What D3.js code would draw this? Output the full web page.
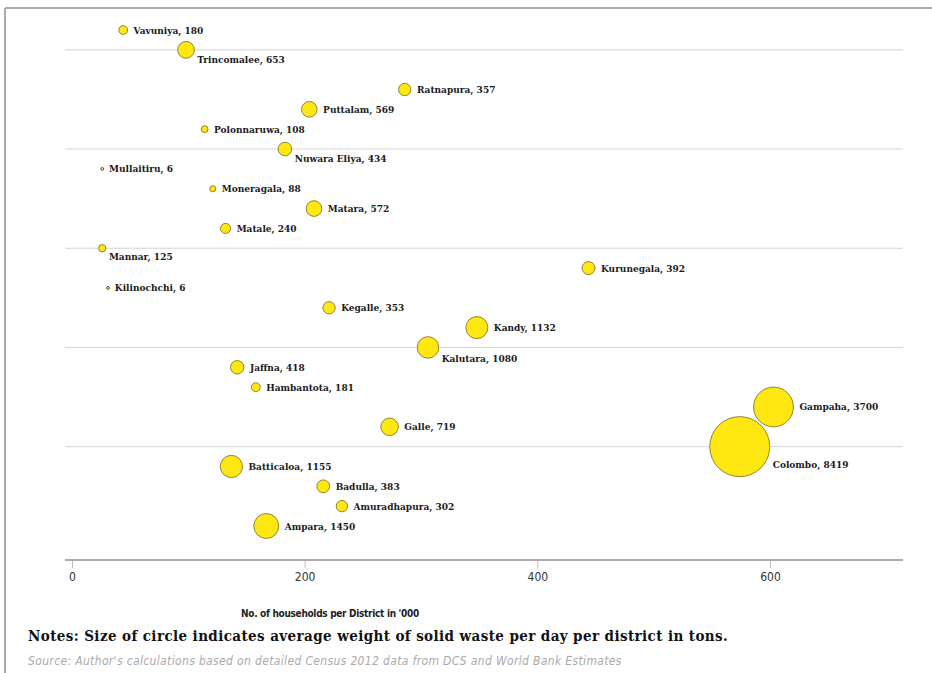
<!DOCTYPE html>
<html>
<head>
<meta charset="utf-8">
<script src="https://cdn.jsdelivr.net/npm/d3@7"></script>
<style>
  body { margin: 0; background: #fff; }
  svg { display: block; }
</style>
</head>
<body>
<div id="chart-area"></div>
<script>
// districts, bottom to top
const districts = ["Ampara", "Amuradhapura", "Badulla", "Batticaloa", "Colombo", "Galle", "Gampaha",
  "Hambantota", "Jaffna", "Kalutara", "Kandy", "Kegalle", "Kilinochchi", "Kurunegala", "Mannar",
  "Matale", "Matara", "Moneragala", "Mullaitiru", "Nuwara Eliya", "Polonnaruwa", "Puttalam",
  "Ratnapura", "Trincomalee", "Vavuniya"]
// row position on the vertical index
const rows = [1, 2, 3, 4, 5, 6, 7, 8, 9, 10, 11, 12, 13, 14, 15, 16, 17, 18, 19, 20, 21, 22, 23, 25, 26]
// households per district ('000)
const households = [167, 232, 216, 137, 574, 273, 603, 158, 142, 306, 348, 221, 31, 444, 26,
  132, 208, 121, 26, 183, 114, 204, 286, 98, 44]
// solid waste per day (tons)
const waste = [1450, 302, 383, 1155, 8419, 719, 3700, 181, 418, 1080, 1132, 353, 6, 392, 125,
  240, 572, 88, 6, 434, 108, 569, 357, 653, 180]
const xTicks = [0, 200, 400, 600]
const gridRows = [5, 10, 15, 20, 25]

const W = 932, H = 673

const svg = d3.select('#chart-area')
  .append('svg')
  .attr('width', W)
  .attr('height', H)

// frame
svg.append('line').attr('x1', 5).attr('x2', W).attr('y1', 8).attr('y2', 8)
  .attr('stroke', '#aaa').attr('stroke-width', 2)
svg.append('line').attr('x1', 5).attr('x2', 5).attr('y1', 8).attr('y2', H)
  .attr('stroke', '#aaa').attr('stroke-width', 2)

const x = d3.scaleLinear().domain([0, 600]).range([72, 770])
const y = d3.scaleLinear().domain([1, 26]).range([526, 30])
const r = d3.scaleSqrt().domain([0, 8419]).range([0, 30])

// gridlines
svg.selectAll('.grid').data(gridRows).enter()
  .append('line')
  .attr('class', 'grid')
  .attr('x1', 65).attr('x2', 903)
  .attr('y1', d => y(d)).attr('y2', d => y(d))
  .attr('stroke', '#d4d4d4').attr('stroke-width', 1)

// x axis
const axisY = 560
const xAxis = d3.axisBottom(x).tickValues(xTicks).tickSize(8).tickPadding(4)
const xAxisGroup = svg.append('g')
  .attr('transform', `translate(0, ${axisY})`)
  .call(xAxis)
xAxisGroup.select('.domain').remove()
xAxisGroup.append('line').attr('x1', 65).attr('x2', 903).attr('y1', 0).attr('y2', 0)
  .attr('stroke', '#aaa').attr('stroke-width', 2)
xAxisGroup.selectAll('.tick line').attr('stroke', '#bbb')
xAxisGroup.selectAll('.tick text')
  .attr('fill', '#333')
  .style('font-family', '"DejaVu Sans Condensed", sans-serif')
  .style('font-size', '12px')

svg.append('text')
  .attr('x', 330).attr('y', 617)
  .attr('text-anchor', 'middle')
  .attr('fill', '#222')
  .style('font-family', '"DejaVu Sans Condensed", sans-serif')
  .style('font-size', '10px')
  .style('font-weight', 'bold')
  .style('letter-spacing', '-0.3px')
  .text("No. of households per District in '000")

svg.append('text')
  .attr('x', 28).attr('y', 641)
  .attr('fill', '#111')
  .style('font-family', '"DejaVu Serif Condensed", "DejaVu Serif", serif')
  .style('font-size', '15px')
  .style('font-weight', 'bold')
  .style('letter-spacing', '0.4px')
  .text('Notes: Size of circle indicates average weight of solid waste per day per district in tons.')

svg.append('text')
  .attr('x', 28).attr('y', 665)
  .attr('fill', '#aaa')
  .style('font-family', '"DejaVu Sans Condensed", sans-serif')
  .style('font-size', '12px')
  .style('font-style', 'italic')
  .style('letter-spacing', '0.35px')
  .text("Source: Author's calculations based on detailed Census 2012 data from DCS and World Bank Estimates")

const data = districts.map((d, i) => ({
  name: d, row: rows[i], hh: households[i], waste: waste[i]
}))

// circles
svg.selectAll('circle.bubble').data(data).enter()
  .append('circle')
  .attr('class', 'bubble')
  .attr('cx', d => x(d.hh))
  .attr('cy', d => y(d.row))
  .attr('r', d => Math.max(r(d.waste), 1.4))
  .attr('fill', '#ffe812')
  .attr('stroke', d => d.waste < 20 ? '#555' : '#8f8330')
  .attr('stroke-width', 1)

// labels: rows sitting on a gridline get their label nudged below
svg.selectAll('text.lbl').data(data).enter()
  .append('text')
  .attr('class', 'lbl')
  .attr('x', d => x(d.hh) + r(d.waste) + (d.row % 5 === 0 ? 3 : 6))
  .attr('y', d => y(d.row) + (d.row % 5 === 0 ? 7 + r(d.waste) * 0.35 : 0))
  .attr('dy', '0.35em')
  .attr('fill', '#1a1a1a')
  .style('font-family', '"DejaVu Serif Condensed", "DejaVu Serif", serif')
  .style('font-size', '10px')
  .style('font-weight', 'bold')
  .text(d => `${d.name}, ${d.waste}`)
</script>
</body>
</html>
